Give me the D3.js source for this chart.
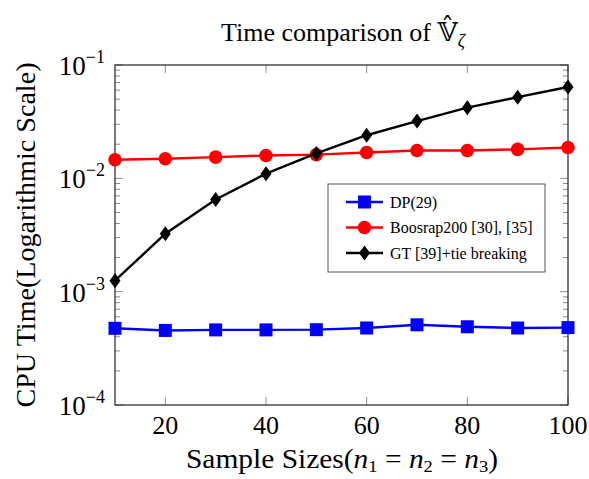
<!DOCTYPE html>
<html>
<head>
<meta charset="utf-8">
<script src="https://cdn.jsdelivr.net/npm/d3@7"></script>
<style>
  body { margin: 0; background: #fff; }
</style>
</head>
<body>
<div id="chart"></div>
<script>
// data
const sampleSizes = [10, 20, 30, 40, 50, 60, 70, 80, 90, 100];
const dpTimes = [4.75e-4, 4.55e-4, 4.6e-4, 4.6e-4, 4.62e-4, 4.78e-4, 5.1e-4, 4.9e-4, 4.78e-4, 4.82e-4];
const bootTimes = [1.46e-2, 1.49e-2, 1.54e-2, 1.59e-2, 1.62e-2, 1.69e-2, 1.76e-2, 1.76e-2, 1.8e-2, 1.87e-2];
const gtTimes = [1.25e-3, 3.25e-3, 6.5e-3, 1.1e-2, 1.66e-2, 2.4e-2, 3.2e-2, 4.2e-2, 5.2e-2, 6.4e-2];
const xTicks = [20, 40, 60, 80, 100];
const yDecades = [-4, -3, -2, -1];
const seriesNames = ["DP(29)", "Boosrap200 [30], [35]", "GT [39]+tie breaking"];

const FONT = "'Liberation Serif', 'DejaVu Serif', serif";
const W = 589, H = 479;
const margin = { top: 65, right: 21, bottom: 74, left: 115 };
const width = W - margin.left - margin.right,
  height = H - margin.top - margin.bottom;

const svg = d3.select("#chart").append("svg")
  .attr("width", W).attr("height", H)
  .attr("font-family", FONT);

const g = svg.append("g")
  .attr("transform", "translate(" + margin.left + "," + margin.top + ")");

const x = d3.scaleLinear().domain([10, 100]).range([0, width]);
const y = d3.scaleLog().domain([1e-4, 1e-1]).range([height, 0]);

// minor ticks on left/right (inward)
const minorVals = [];
for (let e = -4; e < -1; e++) {
  for (let m = 2; m <= 9; m++) minorVals.push(m * Math.pow(10, e));
}
const tickCol = "#8c8c8c";
g.selectAll(".minL").data(minorVals).enter().append("line")
  .attr("x1", 0).attr("x2", 5)
  .attr("y1", d => y(d)).attr("y2", d => y(d))
  .attr("stroke", tickCol).attr("stroke-width", 1);
g.selectAll(".minR").data(minorVals).enter().append("line")
  .attr("x1", width - 5).attr("x2", width)
  .attr("y1", d => y(d)).attr("y2", d => y(d))
  .attr("stroke", tickCol).attr("stroke-width", 1);

// major y ticks
const majorY = yDecades.map(e => Math.pow(10, e));
g.selectAll(".majL").data(majorY).enter().append("line")
  .attr("x1", 0).attr("x2", 8)
  .attr("y1", d => y(d)).attr("y2", d => y(d))
  .attr("stroke", tickCol);
g.selectAll(".majR").data(majorY).enter().append("line")
  .attr("x1", width - 8).attr("x2", width)
  .attr("y1", d => y(d)).attr("y2", d => y(d))
  .attr("stroke", tickCol);

// x ticks top/bottom
g.selectAll(".xb").data(xTicks).enter().append("line")
  .attr("x1", d => x(d)).attr("x2", d => x(d))
  .attr("y1", height).attr("y2", height - 8)
  .attr("stroke", tickCol);
g.selectAll(".xt").data(xTicks).enter().append("line")
  .attr("x1", d => x(d)).attr("x2", d => x(d))
  .attr("y1", 0).attr("y2", 8)
  .attr("stroke", tickCol);

// frame
g.append("rect").attr("width", width).attr("height", height)
  .attr("fill", "none").attr("stroke", "#222").attr("stroke-width", 1.2);

// x tick labels
g.selectAll(".xl").data(xTicks).enter().append("text")
  .attr("x", d => x(d)).attr("y", height + 29)
  .attr("text-anchor", "middle").attr("font-size", 26)
  .text(d => d);

// y tick labels 10^e
const yl = g.selectAll(".yl").data(yDecades).enter().append("text")
  .attr("x", -10).attr("y", d => y(Math.pow(10, d)) + 10)
  .attr("text-anchor", "end").attr("font-size", 27);
yl.append("tspan").text("10");
yl.append("tspan").attr("dy", -12).attr("font-size", 18).text(d => "\u2212" + (-d));

// lines and markers
const line = d3.line().x((d, i) => x(sampleSizes[i])).y(d => y(d));
const series = [
  { vals: dpTimes, color: "#0000ff", shape: "square" },
  { vals: bootTimes, color: "#ff0000", shape: "circle" },
  { vals: gtTimes, color: "#000000", shape: "diamond" }
];

function marker(sel, shape, color) {
  if (shape === "square") {
    sel.append("rect").attr("x", -6.5).attr("y", -6.5).attr("width", 13).attr("height", 13)
      .attr("fill", color);
  } else if (shape === "circle") {
    sel.append("circle").attr("r", 6.8).attr("fill", color);
  } else {
    sel.append("path").attr("d", "M0,-7.5L5.5,0L0,7.5L-5.5,0Z").attr("fill", color);
  }
}

series.forEach(s => {
  g.append("path").datum(s.vals).attr("d", line)
    .attr("fill", "none").attr("stroke", s.color).attr("stroke-width", 2.4);
  s.vals.forEach((v, i) => {
    const m = g.append("g").attr("transform", "translate(" + x(sampleSizes[i]) + "," + y(v) + ")");
    marker(m, s.shape, s.color);
  });
});

// legend
const lg = svg.append("g").attr("transform", "translate(328,184)");
lg.append("rect").attr("width", 217).attr("height", 88)
  .attr("fill", "#fff").attr("stroke", "#555").attr("stroke-width", 1);
series.forEach((s, i) => {
  const row = lg.append("g").attr("transform", "translate(0," + (18 + i * 25.5) + ")");
  row.append("line").attr("x1", 18).attr("x2", 55).attr("y1", 0).attr("y2", 0)
    .attr("stroke", s.color).attr("stroke-width", 2.4);
  const m = row.append("g").attr("transform", "translate(36.5,0)");
  marker(m, s.shape, s.color);
  row.append("text").attr("x", 62).attr("y", 5.5).attr("font-size", 16).text(seriesNames[i]);
});

// title
const title = svg.append("text").attr("x", 343).attr("y", 41)
  .attr("text-anchor", "middle").attr("font-size", 26);
title.append("tspan").text("Time comparison of ");
title.append("tspan").text("\u{1D54D}\u0302");
title.append("tspan").attr("dy", 6).attr("font-size", 18).attr("font-style", "italic").text("\u03B6");

// x axis label
const xl = svg.append("text").attr("x", 342).attr("y", 468)
  .attr("text-anchor", "middle").attr("font-size", 27)
  .attr("textLength", 312).attr("lengthAdjust", "spacingAndGlyphs");
xl.append("tspan").text("Sample Sizes(");
[["n", "1", " = "], ["n", "2", " = "], ["n", "3", ")"]].forEach(p => {
  xl.append("tspan").attr("font-style", "italic").text(p[0]);
  xl.append("tspan").attr("dy", 4).attr("font-size", 17).text(p[1]);
  xl.append("tspan").attr("dy", -4).text(p[2]);
});

// y axis label
svg.append("text").attr("transform", "translate(35,235) rotate(-90)")
  .attr("text-anchor", "middle").attr("font-size", 27)
  .attr("textLength", 345).attr("lengthAdjust", "spacingAndGlyphs")
  .text("CPU Time(Logarithmic Scale)");
</script>
</body>
</html>
